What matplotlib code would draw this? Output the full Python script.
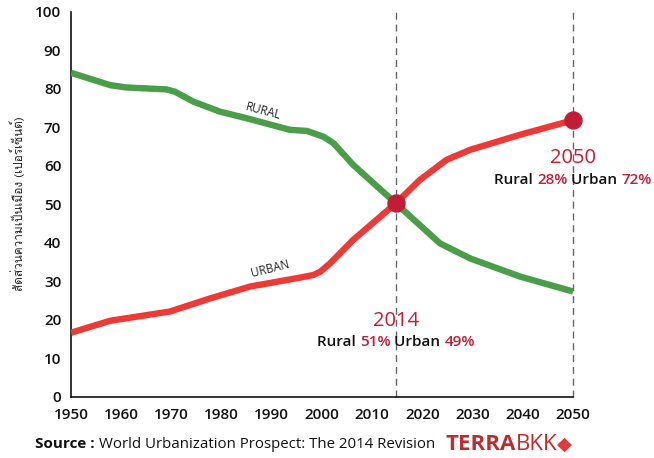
import matplotlib.pyplot as plt
from matplotlib import font_manager
from matplotlib.ft2font import FT2Font
from matplotlib.offsetbox import TextArea, HPacker, AnnotationBbox

# ---------------------------
# data
# ---------------------------
rural_years = [1950, 1957.8, 1961, 1969, 1970.7, 1974.4, 1979.7, 1985, 1993.6, 1997,
               2000.3, 2002.3, 2006.2, 2014.7, 2023.5, 2029.5, 2039.4, 2050]
rural = [84.2, 81.0, 80.4, 79.9, 79.3, 76.7, 74.1, 72.4, 69.4, 69.1,
         67.6, 65.9, 60.3, 50.3, 39.9, 36.0, 31.3, 27.4]

urban_years = [1950, 1957.8, 1969.7, 1977.7, 1985.7, 1995.6, 1998.3, 1999.6, 2001.6, 2006.2,
               2014.7, 2019.5, 2024.8, 2029.5, 2039.4, 2050]
urban = [16.7, 19.8, 22.2, 25.6, 28.7, 31.0, 31.7, 32.5, 34.7, 40.8,
         50.3, 56.4, 61.6, 64.2, 68.1, 71.9]

mark_x = [2014.7, 2050]
mark_y = [50.3, 71.9]
mark_labels = ['2014', '2050']
mark_rural = ['51%', '28%']
mark_urban = ['49%', '72%']

y_ticks = list(range(0, 101, 10))
x_ticks = list(range(1950, 2051, 10))

GREEN = '#4a9e48'
RED = '#ee3a36'
CRIMSON = '#c11d36'
GREY = '#666666'


# look for an installed font that has Thai glyphs
def thai_font():
    for f in font_manager.fontManager.ttflist:
        try:
            if 0x0E2A in FT2Font(f.fname).get_charmap():
                return f.name
        except Exception:
            pass
    return None


thai = thai_font()
plt.rcParams['font.family'] = ['Open Sans', 'DejaVu Sans'] + ([thai] if thai else [])

fig = plt.figure(figsize=(6.54, 4.58), dpi=100)
ax = fig.add_axes([0.1086, 0.1332, 0.7676, 0.8406])

ax.plot(rural_years, rural, color=GREEN, lw=4.6, solid_capstyle='butt', solid_joinstyle='round', zorder=3)
ax.plot(urban_years, urban, color=RED, lw=4.6, solid_capstyle='butt', solid_joinstyle='round', zorder=3)

for xv in mark_x:
    ax.axvline(xv, color=GREY, lw=1, ls=(0, (5, 3.5)), zorder=1, clip_on=False)
ax.scatter(mark_x, mark_y, s=150, color=CRIMSON, zorder=4, clip_on=False)

ax.text(1988.3, 74.3, 'RURAL', rotation=-15, fontsize=8.5, ha='center', va='center', color='#222222')
ax.text(1989.6, 33.2, 'URBAN', rotation=14, fontsize=8.5, ha='center', va='center', color='#222222')


def note(x, y_year, y_txt, year, r, u):
    ax.text(x, y_year, year, color=CRIMSON, fontsize=14.5, fontweight='medium', ha='center', va='center')
    parts = [('Rural ', '#111111'), (r, CRIMSON), (' Urban ', '#111111'), (u, CRIMSON)]
    boxes = [TextArea(t, textprops=dict(color=c, fontsize=11, fontweight='semibold')) for t, c in parts]
    pack = HPacker(children=boxes, align='baseline', pad=0, sep=0)
    ab = AnnotationBbox(pack, (x, y_txt), box_alignment=(0.5, 0.5), frameon=False,
                        annotation_clip=False)
    ax.add_artist(ab)


note(mark_x[0], 19.8, 14.2, mark_labels[0], mark_rural[0], mark_urban[0])
note(mark_x[1], 62.0, 56.3, mark_labels[1], mark_rural[1], mark_urban[1])

ax.set_xlim(1950, 2050)
ax.set_ylim(0, 100)
ax.set_xticks(x_ticks)
ax.set_yticks(y_ticks)
ax.tick_params(length=0, labelsize=11, colors='#111111')
ax.tick_params(axis='x', pad=8)
ax.tick_params(axis='y', pad=7)
for lab in ax.get_xticklabels() + ax.get_yticklabels():
    lab.set_fontweight('semibold')
for s in ['top', 'right']:
    ax.spines[s].set_visible(False)
for s in ['left', 'bottom']:
    ax.spines[s].set_color('#111111')
    ax.spines[s].set_linewidth(1.2)

fig.text(17 / 654, 1 - 204 / 458, 'สัดส่วนความเป็นเมือง (เปอร์เซ็นต์)', rotation=90,
         fontsize=8.5, color='#222222', ha='center', va='center',
         family=([thai] if thai else []) + ['DejaVu Sans'])

# source line + logo
src = [('Source : ', dict(fontsize=11, fontweight='bold', color='#111111')),
       ('World Urbanization Prospect: The 2014 Revision', dict(fontsize=10.8, color='#111111'))]
src_pack = HPacker(children=[TextArea(t, textprops=p) for t, p in src], align='baseline', pad=0, sep=0)
fig.add_artist(AnnotationBbox(src_pack, (35, 13), xycoords='figure pixels', box_alignment=(0, 0.5),
                              frameon=False))

logo = [('TERRA', dict(fontsize=16, fontweight='bold', color='#bf2b2e')),
        ('BKK', dict(fontsize=16, color='#bf2b2e')),
        ('\u25C6', dict(fontsize=14, color='#dc3a3e', family='DejaVu Sans'))]
logo_pack = HPacker(children=[TextArea(t, textprops=p) for t, p in logo], align='baseline', pad=0, sep=0)
fig.add_artist(AnnotationBbox(logo_pack, (445, 14), xycoords='figure pixels', box_alignment=(0, 0.5),
                              frameon=False))

fig.savefig('out.png', dpi=100)
